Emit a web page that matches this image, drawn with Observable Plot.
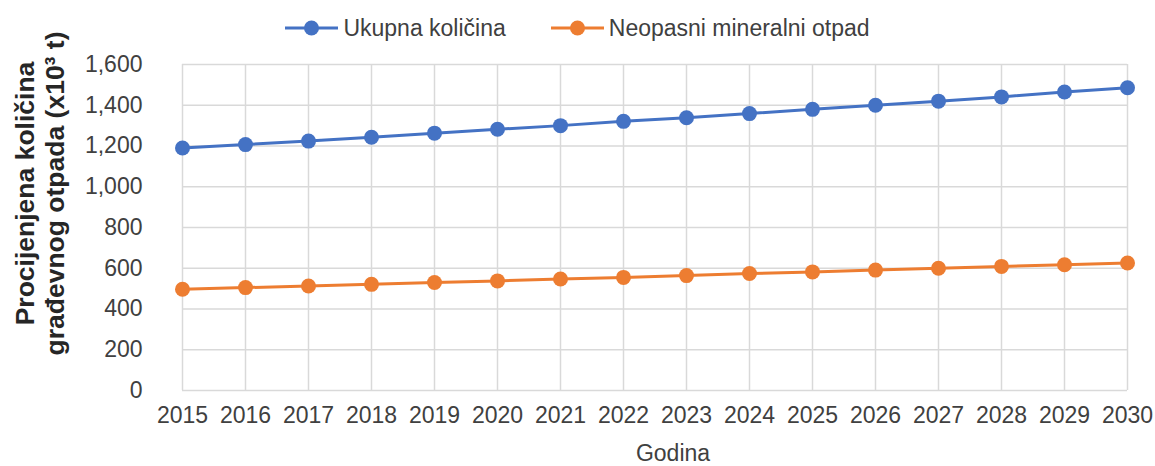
<!DOCTYPE html>
<html>
<head>
<meta charset="utf-8">
<script src="https://cdn.jsdelivr.net/npm/d3@7"></script>
<script src="https://cdn.jsdelivr.net/npm/@observablehq/plot@0.6"></script>
<style>
  html, body { margin: 0; padding: 0; background: #fff; }
  body { width: 1155px; height: 466px; overflow: hidden; position: relative; font-family: "Liberation Sans", Arial, sans-serif; }
  #legend { position: absolute; left: 0; top: 0; width: 1155px; height: 56px; display: flex; justify-content: center; align-items: center; color: #404040; font-size: 23px; z-index: 2; }
  .item { display: flex; align-items: center; }
  .item + .item { margin-left: 45px; }
  .item svg { margin-right: 5px; }
  #chart { position: absolute; left: 0; top: 0; }
</style>
</head>
<body>
<div id="chart"></div>
<div id="legend"></div>
<script>
const years = [2015, 2016, 2017, 2018, 2019, 2020, 2021, 2022, 2023, 2024, 2025, 2026, 2027, 2028, 2029, 2030];
const ukupna = [1190, 1207, 1224, 1243, 1263, 1282, 1300, 1321, 1339, 1359, 1380, 1400, 1420, 1441, 1465, 1486];
const mineralni = [497, 505, 513, 521, 530, 538, 547, 555, 564, 574, 582, 591, 600, 609, 617, 626];
const seriesNames = ["Ukupna količina", "Neopasni mineralni otpad"];
const seriesColors = ["#4472C4", "#ED7D31"];
const yTicks = [0, 200, 400, 600, 800, 1000, 1200, 1400, 1600];
const yTitle = "Procijenjena količina\ngrađevnog otpada (x10³ t)";
const xTitle = "Godina";

const rows = [
  ...years.map((y, i) => ({year: y, value: ukupna[i], series: seriesNames[0]})),
  ...years.map((y, i) => ({year: y, value: mineralni[i], series: seriesNames[1]}))
];

// legend
const legend = document.getElementById("legend");
seriesNames.forEach((name, i) => {
  const item = document.createElement("div");
  item.className = "item";
  item.innerHTML = `<svg width="53" height="16"><line x1="0" x2="53" y1="8" y2="8" stroke="${seriesColors[i]}" stroke-width="3"/><circle cx="26.5" cy="8" r="7.5" fill="${seriesColors[i]}"/></svg><span>${name}</span>`;
  legend.appendChild(item);
});

const chart = Plot.plot({
  width: 1155,
  height: 466,
  marginTop: 64,
  marginBottom: 76,
  marginLeft: 182,
  marginRight: 28,
  style: {fontFamily: "'Liberation Sans', Arial, sans-serif", fontSize: "23px", color: "#404040", background: "#fff", overflow: "visible"},
  x: {type: "linear", domain: [2015, 2030], ticks: years, tickFormat: d3.format("d"), label: null},
  y: {domain: [0, 1600], ticks: yTicks, tickFormat: d3.format(","), label: null},
  color: {domain: seriesNames, range: seriesColors},
  marks: [
    Plot.gridX(years, {stroke: "#d9d9d9", strokeOpacity: 1, strokeWidth: 1.5}),
    Plot.gridY(yTicks, {stroke: "#d9d9d9", strokeOpacity: 1, strokeWidth: 1.5}),
    Plot.axisX(years, {tickSize: 0, tickPadding: 16, tickFormat: d3.format("d"), label: null, fill: "#404040"}),
    Plot.axisY(yTicks, {tickSize: 0, tickPadding: 40, tickFormat: d3.format(","), label: null, fill: "#404040"}),
    Plot.line(rows, {x: "year", y: "value", z: "series", stroke: "series", strokeWidth: 3}),
    Plot.dot(rows, {x: "year", y: "value", fill: "series", r: 7.5}),
    Plot.text([xTitle], {frameAnchor: "bottom", dx: 18, dy: 63, fill: "#404040", fontSize: 23, lineAnchor: "middle", textAnchor: "middle"}),
    Plot.text([yTitle], {frameAnchor: "left", rotate: -90, dx: -143, dy: -34, fill: "#262626", fontSize: 26.5, fontWeight: "bold", lineAnchor: "middle", textAnchor: "middle", lineHeight: 1.12})
  ]
});
document.getElementById("chart").appendChild(chart);
</script>
</body>
</html>
